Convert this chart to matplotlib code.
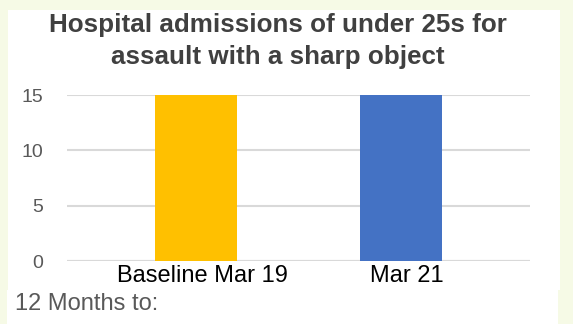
import matplotlib.pyplot as plt
from matplotlib.patches import Rectangle
from matplotlib.transforms import ScaledTranslation

categories = ["Baseline Mar 19", "Mar 21"]
values = [15, 15]
colors = ["#FFC000", "#4472C4"]
yticks = [0, 5, 10, 15]

plt.rcParams['font.family'] = ['Liberation Sans', 'DejaVu Sans']

fig = plt.figure(figsize=(5.73, 3.24), dpi=100, facecolor="#F6FAE6")
W, H = 573, 324

# white panels behind the chart and the footer text
fig.patches.append(Rectangle((8 / W, 1 - 290 / H), 552 / W, 280 / H,
                             transform=fig.transFigure, facecolor="white",
                             edgecolor="none", zorder=-10))
fig.patches.append(Rectangle((7 / W, 0), 551 / W, 34 / H,
                             transform=fig.transFigure, facecolor="white",
                             edgecolor="none", zorder=-10))

ax = fig.add_axes([67 / W, 1 - 261 / H, 463 / W, 166 / H])
ax.set_facecolor("none")
ax.bar(range(len(categories)), values, width=0.4, color=colors, zorder=3)
ax.set_xlim(-0.63, 1.63)
ax.set_ylim(0, 15)
ax.set_yticks(yticks)
ax.set_xticks(range(len(categories)))
ax.set_xticklabels(categories, fontsize=17, color="black")
ax.tick_params(axis="y", labelsize=14, labelcolor="#595959", length=0, pad=17)
ax.tick_params(axis="x", length=0, pad=3)
shift = ScaledTranslation(0.06, 0, fig.dpi_scale_trans)
for lbl in ax.get_xticklabels():
    lbl.set_transform(lbl.get_transform() + shift)
ax.grid(axis="y", color="#D9D9D9", linewidth=1.5, zorder=0)
ax.set_axisbelow(True)
for s in ax.spines.values():
    s.set_visible(False)
ax.axhline(0, color="#D9D9D9", linewidth=1.5, zorder=1)

fig.text(0.485, 1 - 32 / H, "Hospital admissions of under 25s for",
         ha="center", va="baseline", fontsize=18.7, fontweight="bold", color="#404040")
fig.text(0.485, 1 - 64 / H, "assault with a sharp object",
         ha="center", va="baseline", fontsize=18.7, fontweight="bold", color="#404040")
fig.text(15 / W, 1 - 304 / H, "12 Months to:", ha="left", va="center",
         fontsize=17, color="#595959")

fig.savefig("out.png", dpi=100, facecolor=fig.get_facecolor())
